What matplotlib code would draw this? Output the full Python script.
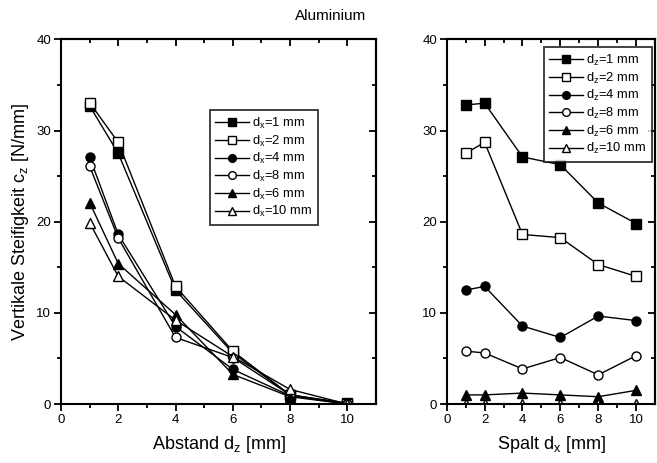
import numpy as np
import matplotlib
matplotlib.use("Agg")
import matplotlib.pyplot as plt

plt.rcParams['font.family'] = ['Liberation Sans', 'DejaVu Sans']
plt.rcParams['mathtext.fontset'] = 'custom'
plt.rcParams['mathtext.rm'] = 'Liberation Sans'

x = [1, 2, 4, 6, 8, 10]

# left panel: c_z vs. Abstand d_z, one curve per gap d_x
left_labels = ['1', '2', '4', '8', '6', '10']
left_vals = [
    [32.7, 27.5, 12.5, 5.6, 1.0, 0.1],
    [33.05, 28.7, 12.9, 5.8, 1.0, 0.0],
    [27.1, 18.6, 8.5, 3.8, 0.9, 0.0],
    [26.1, 18.2, 7.3, 5.1, 1.0, 0.0],
    [22.1, 15.4, 9.8, 3.25, 0.8, 0.0],
    [19.9, 14.0, 9.2, 5.2, 1.6, 0.0],
]

# right panel: c_z vs. Spalt d_x, one curve per distance d_z
right_labels = ['1', '2', '4', '8', '6', '10']
right_vals = [
    [32.8, 33.0, 27.1, 26.25, 22.05, 19.8],
    [27.5, 28.7, 18.6, 18.25, 15.3, 14.0],
    [12.5, 12.9, 8.55, 7.3, 9.65, 9.15],
    [5.8, 5.6, 3.85, 5.1, 3.2, 5.3],
    [1.0, 1.0, 1.2, 1.0, 0.8, 1.5],
    [0.0, 0.0, 0.0, 0.0, 0.0, 0.0],
]

markers = ['s', 's', 'o', 'o', '^', '^']
filled = [True, False, True, False, True, False]

fig = plt.figure(figsize=(6.57, 4.63), dpi=100)
ax1 = fig.add_axes([0.0928, 0.1274, 0.4795, 0.7876])
ax2 = fig.add_axes([0.680, 0.1274, 0.317, 0.7876])


def style_axes(ax):
    ax.set_xlim(0, 11)
    ax.set_ylim(0, 40)
    ax.set_xticks([0, 2, 4, 6, 8, 10])
    ax.set_xticks([1, 3, 5, 7, 9], minor=True)
    ax.set_yticks([0, 10, 20, 30, 40])
    ax.set_yticks([5, 15, 25, 35], minor=True)
    for s in ax.spines.values():
        s.set_linewidth(1.5)
    ax.tick_params(which='both', direction='out', width=1.3, labelsize=9.5,
                   top=False, right=False, pad=2)
    ax.tick_params(which='major', length=5)
    ax.tick_params(which='minor', length=3)
    # Origin style: inward ticks on top and right
    top = ax.secondary_xaxis('top')
    top.set_xticks([0, 2, 4, 6, 8, 10])
    top.set_xticks([1, 3, 5, 7, 9], minor=True)
    top.tick_params(which='both', direction='in', labeltop=False, width=1.3)
    top.tick_params(which='major', length=5)
    top.tick_params(which='minor', length=3)
    top.spines['top'].set_linewidth(1.5)
    right = ax.secondary_yaxis('right')
    right.set_yticks([0, 10, 20, 30, 40])
    right.set_yticks([5, 15, 25, 35], minor=True)
    right.tick_params(which='both', direction='in', labelright=False, width=1.3)
    right.tick_params(which='major', length=5)
    right.tick_params(which='minor', length=3)
    right.spines['right'].set_linewidth(1.5)


for i in range(6):
    ax1.plot(x, left_vals[i], color='black', lw=1, marker=markers[i], ms=6.5,
             mfc='black' if filled[i] else 'white', mec='black', mew=1,
             label=r'$\mathregular{d_x}$=' + left_labels[i] + ' mm')
    ax2.plot(x, right_vals[i], color='black', lw=1, marker=markers[i], ms=6.5,
             mfc='black' if filled[i] else 'white', mec='black', mew=1,
             label=r'$\mathregular{d_z}$=' + right_labels[i] + ' mm')

style_axes(ax1)
style_axes(ax2)

ax1.set_xlabel(r'Abstand $\mathregular{d_z}$ [mm]', fontsize=13, labelpad=6)
ax1.set_ylabel(r'Vertikale Steifigkeit $\mathregular{c_z}$ [N/mm]', fontsize=13, labelpad=4)
ax2.set_xlabel(r'Spalt $\mathregular{d_x}$ [mm]', fontsize=13, labelpad=6)

for ax, loc in [(ax1, (0.816, 0.806)), (ax2, (0.986, 0.979))]:
    leg = ax.legend(loc='upper right', bbox_to_anchor=loc, fontsize=9.3, frameon=True,
                    fancybox=False, edgecolor='black', handlelength=2.6,
                    labelspacing=0.2, borderpad=0.45, handletextpad=0.25,
                    borderaxespad=0, markerscale=0.85)
    leg.get_frame().set_linewidth(1.3)

fig.text(0.503, 0.965, 'Aluminium', ha='center', va='center', fontsize=11)

fig.savefig('out.png', dpi=100)
